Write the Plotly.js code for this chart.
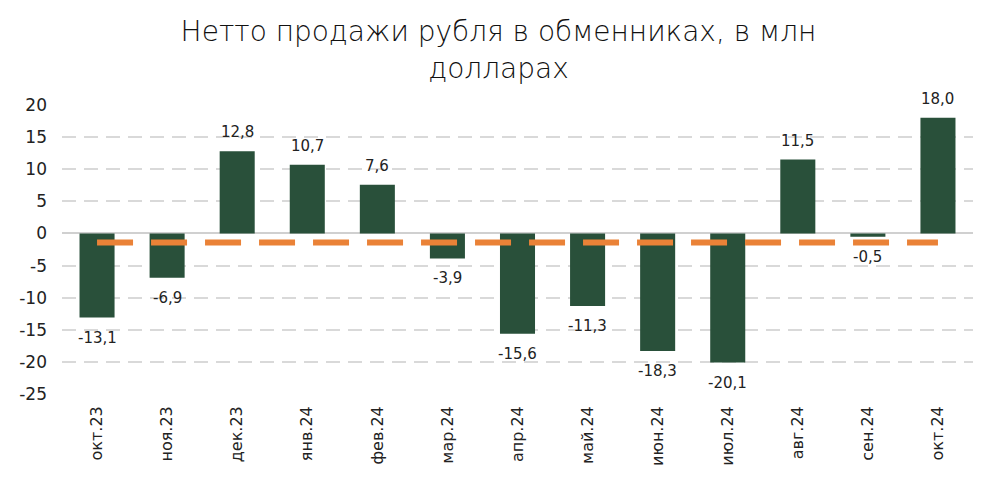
<!DOCTYPE html>
<html>
<head>
<meta charset="utf-8">
<script src="https://cdn.plot.ly/plotly-3.0.1.min.js"></script>
<style>html,body{margin:0;padding:0;background:#fff}#chart{width:997px;height:487px}</style>
</head>
<body>
<div id="chart"></div>
<script>
const categories = ["окт.23","ноя.23","дек.23","янв.24","фев.24","мар.24","апр.24","май.24","июн.24","июл.24","авг.24","сен.24","окт.24"];
const values = [-13.1,-6.9,12.8,10.7,7.6,-3.9,-15.6,-11.3,-18.3,-20.1,11.5,-0.5,18.0];
const lineValues = [-1.4,-1.4,-1.4,-1.4,-1.4,-1.4,-1.4,-1.4,-1.4,-1.4,-1.4,-1.4,-1.4];
const yTicks = [20,15,10,5,0,-5,-10,-15,-20,-25];

const FONT = "DejaVu Sans, sans-serif";
const labels = values.map(v => v.toFixed(1).replace('.', ','));

const bars = {
  type: 'bar', x: categories, y: values,
  marker: {color: '#29503a'},
  hoverinfo: 'skip'
};
const line = {
  type: 'scatter', mode: 'lines', x: categories, y: lineValues,
  line: {color: '#ea8237', width: 6, dash: '36px,18px'},
  hoverinfo: 'skip'
};

const annotations = categories.map((c, i) => ({
  x: c, y: values[i], xref: 'x', yref: 'y',
  text: labels[i], showarrow: false,
  xanchor: 'center', yanchor: 'middle',
  yshift: values[i] >= 0 ? 19 : -20,
  font: {family: FONT, size: 15, color: '#222'}
}));

const layout = {
  width: 997, height: 487,
  margin: {l: 62, r: 24, t: 105, b: 93},
  paper_bgcolor: '#fff', plot_bgcolor: '#fff',
  showlegend: false,
  bargap: 0.5,
  annotations: annotations,
  title: {text: 'Нетто продажи рубля в обменниках, в млн<br>долларах', x: 0.5, xanchor: 'center',
          yref: 'container', y: 0.915, yanchor: 'middle',
          font: {family: FONT, size: 28, color: '#111', weight: 300}},
  xaxis: {type: 'category', tickangle: -90, showgrid: false, showline: false, ticks: '',
          ticklabelstandoff: 8,
          tickfont: {family: FONT, size: 16, color: '#222'}, automargin: false},
  yaxis: {range: [-25, 20], tickvals: yTicks, ticktext: yTicks.map(String),
          showgrid: true, gridcolor: '#d9d9d9', gridwidth: 2, griddash: '14px,8px',
          zeroline: true, zerolinecolor: '#d0d0d0', zerolinewidth: 2,
          ticklabelstandoff: 14,
          tickfont: {family: FONT, size: 17, color: '#222'}, ticks: '', automargin: false}
};
Plotly.newPlot('chart', [bars, line], layout, {displayModeBar: false, staticPlot: true});
</script>
</body>
</html>
